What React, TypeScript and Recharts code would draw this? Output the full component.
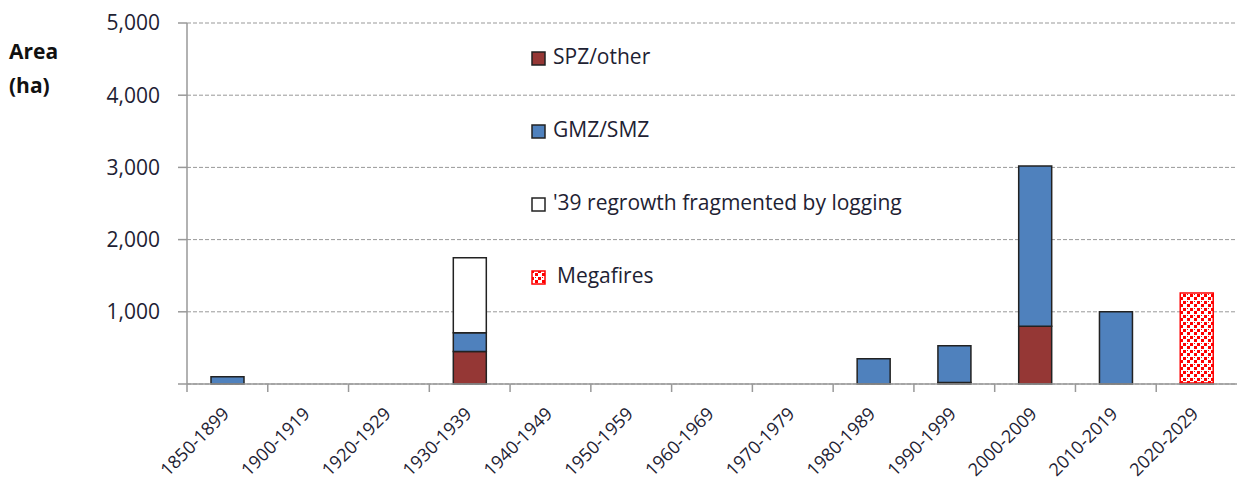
import React from 'react';
import { BarChart, Bar, XAxis, YAxis, CartesianGrid, Legend } from 'recharts';

const periods = ['1850-1899', '1900-1919', '1920-1929', '1930-1939', '1940-1949', '1950-1959', '1960-1969', '1970-1979', '1980-1989', '1990-1999', '2000-2009', '2010-2019', '2020-2029'];
const spzOther = [0, 0, 0, 450, 0, 0, 0, 0, 0, 20, 800, 0, 0];
const gmzSmz = [100, 0, 0, 260, 0, 0, 0, 0, 350, 510, 2220, 1000, 15];
const regrowth = [0, 0, 0, 1040, 0, 0, 0, 0, 0, 0, 0, 0, 0];
const megafires = [0, 0, 0, 0, 0, 0, 0, 0, 0, 0, 0, 0, 1245];
const yTicks = [0, 1000, 2000, 3000, 4000, 5000];

const data = periods.map((p, i) => ({
  period: p,
  spz: spzOther[i],
  gmz: gmzSmz[i],
  regrowth: regrowth[i],
  mega: megafires[i],
}));

const W = 1237;
const H = 482;
const Y_W = 187;
const PLOT_W = W - Y_W;
const FONT = '"Open Sans", sans-serif';
const TEXT = '#1e2233';

const legendItems = [
  { name: 'SPZ/other', fill: '#953735', stroke: '#222' },
  { name: 'GMZ/SMZ', fill: '#4F81BD', stroke: '#222' },
  { name: "'39 regrowth fragmented by logging", fill: '#fff', stroke: '#222' },
  { name: 'Megafires', fill: 'url(#mega)', stroke: '#ff0000' },
];

const LegendBox = () => (
  <div style={{ fontFamily: FONT, fontSize: 21, color: TEXT }}>
    {legendItems.map((it, i) => (
      <div key={i} style={{ height: 73, display: 'flex', alignItems: 'flex-start' }}>
        <svg width={20} height={28} style={{ marginTop: 2 }}>
          <rect x={1} y={8} width={13} height={13} fill={it.fill} stroke={it.stroke} strokeWidth={1.5} />
        </svg>
        <span style={{ marginLeft: i === 3 ? 6 : 2 }}>{it.name}</span>
      </div>
    ))}
  </div>
);

// category label at the centre, tick mark at the left edge of each band
const XTick = (props: any) => {
  const { x, y, payload } = props;
  const band = PLOT_W / periods.length;
  const ax = x + 3;
  const ay = y + 31;
  return (
    <g>
      <line x1={x - band / 2} x2={x - band / 2} y1={y} y2={y + 8} stroke="#999" strokeWidth={1.5} />
      <text
        x={ax}
        y={ay}
        textAnchor="end"
        transform={`rotate(-45, ${ax}, ${ay})`}
        fontFamily={FONT}
        fontSize={18}
        fill={TEXT}
      >
        {payload.value}
      </text>
    </g>
  );
};

export default function App() {
  return (
    <div style={{ position: 'absolute', left: 0, top: 0, width: W, height: H, background: '#fff' }}>
      <div style={{ position: 'absolute', left: 9, top: 34, fontFamily: FONT, fontWeight: 700, fontSize: 21, color: '#111', lineHeight: '34px' }}>
        Area
        <br />
        (ha)
      </div>
      <BarChart width={W} height={H} data={data} margin={{ top: 23, right: 0, left: 0, bottom: 0 }} barSize={33}>
        <defs>
          <pattern id="mega" width={7} height={7} patternUnits="userSpaceOnUse">
            <rect width={7} height={7} fill="#fff" />
            <rect x={0} y={0} width={3} height={3} fill="#ff0000" />
            <rect x={4} y={3} width={3} height={3} fill="#ff0000" />
            <rect x={4} y={0} width={1} height={1} fill="#ff0000" />
          </pattern>
        </defs>
        <CartesianGrid vertical={false} stroke="#999" strokeDasharray="4 2" />
        <XAxis
          dataKey="period"
          height={98}
          interval={0}
          tickSize={0}
          tickMargin={0}
          tickLine={false}
          axisLine={{ stroke: '#999', strokeWidth: 1.5 }}
          tick={<XTick />}
        />
        <YAxis
          width={Y_W}
          domain={[0, 5000]}
          ticks={yTicks}
          interval={0}
          tickSize={9}
          tickMargin={18}
          tickLine={{ stroke: '#999', strokeWidth: 1.5 }}
          axisLine={{ stroke: '#999', strokeWidth: 1.5 }}
          tickFormatter={(v: number) => (v === 0 ? '' : v.toLocaleString('en-US'))}
          tick={{ fontFamily: FONT, fontSize: 21, fill: TEXT }}
        />
        <Legend
          content={<LegendBox />}
          wrapperStyle={{ position: 'absolute', left: 531, top: 42, width: 420, height: 0, overflow: 'visible' }}
        />
        <Bar dataKey="spz" name="SPZ/other" stackId="a" fill="#953735" stroke="#222" strokeWidth={1.5} isAnimationActive={false} />
        <Bar dataKey="gmz" name="GMZ/SMZ" stackId="a" fill="#4F81BD" stroke="#222" strokeWidth={1.5} isAnimationActive={false} />
        <Bar dataKey="regrowth" name="'39 regrowth fragmented by logging" stackId="a" fill="#fff" stroke="#222" strokeWidth={1.5} isAnimationActive={false} />
        <Bar dataKey="mega" name="Megafires" stackId="a" fill="url(#mega)" stroke="#ff0000" strokeWidth={1.5} isAnimationActive={false} />
      </BarChart>
    </div>
  );
}
